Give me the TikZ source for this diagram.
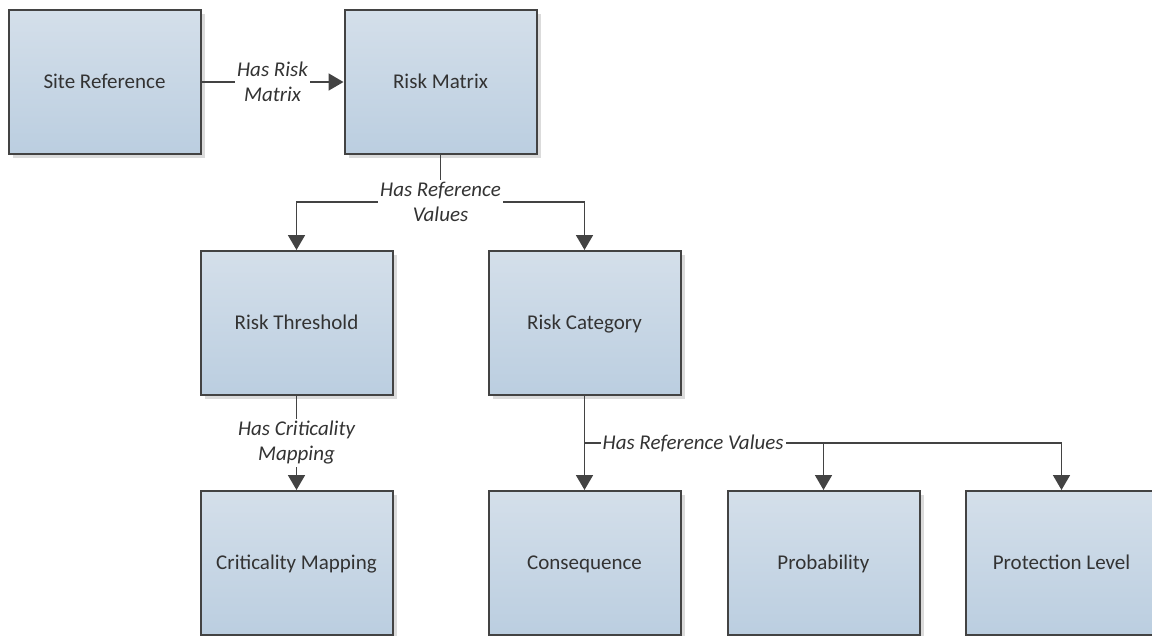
\documentclass[tikz,border=0pt]{standalone}
\usepackage{fontspec}
\setmainfont{Carlito}
\usepackage{xcolor}
\usepackage{tikz}
\usetikzlibrary{arrows.meta, positioning, shadows}
\definecolor{boxtop}{HTML}{D4DFEA}
\definecolor{boxbottom}{HTML}{BBCEE0}
\definecolor{edgegray}{HTML}{434343}
\definecolor{textgray}{HTML}{333333}

\begin{document}
\begin{tikzpicture}[
    font=\fontsize{21}{25}\selectfont,
    text=textgray,
    block/.style={rectangle, draw=edgegray, line width=2pt, top color=boxtop, bottom color=boxbottom, minimum width=192pt, minimum height=144pt, inner sep=0pt, text height=18pt, text depth=4.6pt, align=center, drop shadow={shadow xshift=4pt, shadow yshift=-4pt, fill=black, opacity=0.14}},
    arrow/.style={-{Triangle[width=17pt, length=15pt]}, line width=1.8pt, draw=edgegray},
    rel/.style={fill=white, inner sep=2pt, align=center, font=\fontsize{21}{25}\selectfont\itshape},
]
    \useasboundingbox (0,0) rectangle (1152pt,-635pt);

    % Top row
    \node[block] (site) at (104.5pt,-82pt) {Site Reference};
    \node[block, right=142pt of site] (matrix) {Risk Matrix};

    % Middle row
    \node[block, below=95pt of matrix, xshift=-144pt] (threshold) {Risk Threshold};
    \node[block, below=95pt of matrix, xshift=144pt] (category) {Risk Category};

    % Bottom row
    \node[block, below=94pt of threshold] (criticality) {Criticality Mapping};
    \node[block, below=94pt of category] (consequence) {Consequence};
    \node[block, right=45pt of consequence] (probability) {Probability};
    \node[block, right=44pt of probability] (protection) {Protection Level};

    % Connectors
    \draw[arrow] (site) -- node[rel] {Has Risk\\Matrix} (matrix);

    \draw[arrow] (matrix.south) -- ++(0,-47pt) coordinate (matrixhub) -| (threshold.north);
    \draw[arrow] (matrixhub) -| (category.north);
    \node[rel] at (matrixhub) {Has Reference\\Values};

    \draw[arrow] (threshold) -- node[rel] {Has Criticality\\Mapping} (criticality);

    \draw[arrow] (category) -- (consequence);
    \path (category.south) -- ++(0,-47pt) coordinate (categoryhub);
    \draw[arrow] (categoryhub) -| (probability.north);
    \draw[arrow] (categoryhub) -| (protection.north);
    \node[rel, anchor=west] at ([xshift=16pt]categoryhub) {Has Reference Values};
\end{tikzpicture}
\end{document}
